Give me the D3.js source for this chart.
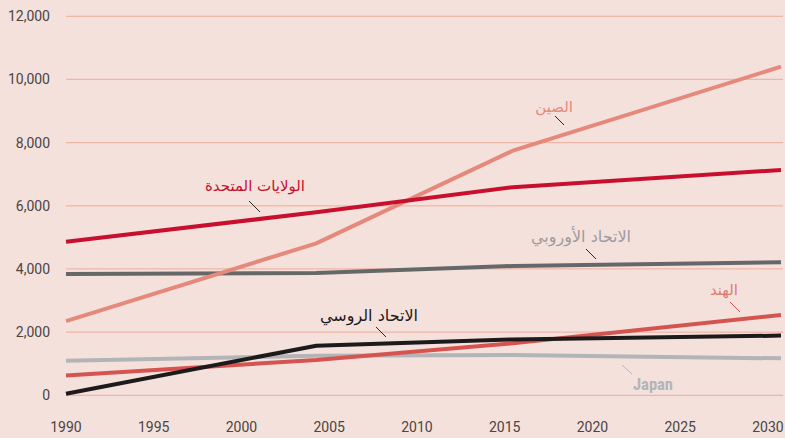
<!DOCTYPE html>
<html>
<head>
<meta charset="utf-8">
<script src="https://cdn.jsdelivr.net/npm/d3@7"></script>
<style>
  html, body { margin: 0; padding: 0; background: #f5e1dc; }
  svg { display: block; }
</style>
</head>
<body>
<svg id="chart" width="785" height="438"></svg>
<script>
// ---- Data ----
const years = [1990, 2004, 2015, 2030];
const usValues     = [4860, 5795, 6590, 7135];
const chinaValues  = [2350, 4810, 7745, 10405];
const euValues     = [3840, 3870, 4095, 4210];
const indiaValues  = [630, 1120, 1645, 2545];
const russiaValues = [50, 1570, 1770, 1890];
const japanValues  = [1095, 1250, 1275, 1170];

const seriesNames = ["الولايات المتحدة", "الصين", "الاتحاد الأوروبي", "الهند", "الاتحاد الروسي", "Japan"];
const yTicks = [0, 2000, 4000, 6000, 8000, 10000, 12000];
const xTicks = [1990, 1995, 2000, 2005, 2010, 2015, 2020, 2025, 2030];

// ---- Styling / layout ----
const W = 785, H = 438;
const svg = d3.select("#chart");
svg.append("rect").attr("width", W).attr("height", H).attr("fill", "#f5e1dc");

const x = d3.scaleLinear().domain([1990, 2030]).range([66, 781]);
const xLabel = d3.scaleLinear().domain([1990, 2030]).range([66, 768]);
const y = d3.scaleLinear().domain([0, 12000]).range([395.3, 16.3]);

const fontTick = "Roboto, 'Liberation Sans', Arial, sans-serif";
const fontAr = "'DejaVu Sans', sans-serif";

// gridlines
svg.append("g").selectAll("line").data(yTicks).join("line")
  .attr("x1", 66).attr("x2", 783)
  .attr("y1", d => y(d)).attr("y2", d => y(d))
  .attr("stroke", "#efb5a6").attr("stroke-width", 1.2);

// y labels
svg.append("g").selectAll("text").data(yTicks).join("text")
  .attr("x", 50).attr("y", d => y(d)).attr("dy", "0.35em")
  .attr("text-anchor", "end")
  .attr("font-family", fontTick).attr("font-size", 14)
  .attr("fill", "#4a4443")
  .text(d => d3.format(",")(d));

// x labels
svg.append("g").selectAll("text").data(xTicks).join("text")
  .attr("x", d => xLabel(d)).attr("y", 432)
  .attr("text-anchor", "middle")
  .attr("font-family", fontTick).attr("font-size", 14)
  .attr("fill", "#4a4443")
  .text(d => d);

const series = [
  { name: seriesNames[0], values: usValues,     color: "#c8102e", w: 4 },
  { name: seriesNames[1], values: chinaValues,  color: "#e4897b", w: 4 },
  { name: seriesNames[2], values: euValues,     color: "#666769", w: 4 },
  { name: seriesNames[3], values: indiaValues,  color: "#d5544f", w: 4 },
  { name: seriesNames[4], values: russiaValues, color: "#1c1a1a", w: 4 },
  { name: seriesNames[5], values: japanValues,  color: "#b3b4b8", w: 4 }
];

const line = d3.line().x((d, i) => x(years[i])).y(d => y(d));

// draw order: japan, eu, india, russia, china, us (us on top)
const order = [5, 2, 3, 4, 1, 0];
svg.append("g").selectAll("path").data(order.map(i => series[i])).join("path")
  .attr("d", d => line(d.values))
  .attr("fill", "none")
  .attr("stroke", d => d.color)
  .attr("stroke-width", d => d.w)
  .attr("stroke-linejoin", "round");

// labels with leader lines
const labels = [
  { s: 0, tx: 305, ty: 191, lx1: 249, ly1: 201, lx2: 260, ly2: 212, color: "#c8102e", size: 15, font: fontAr, weight: "normal" },
  { s: 1, tx: 573, ty: 112, lx1: 555, ly1: 116, lx2: 564, ly2: 125, color: "#e4897b", size: 15, font: fontAr, weight: "normal" },
  { s: 2, tx: 631, ty: 242, lx1: 586, ly1: 249, lx2: 596, ly2: 259, color: "#9c9c9e", size: 16, font: fontAr, weight: "normal" },
  { s: 3, tx: 738, ty: 295, lx1: 730, ly1: 302, lx2: 740, ly2: 312, color: "#e07a70", size: 15, font: fontAr, weight: "normal" },
  { s: 4, tx: 418, ty: 321, lx1: 376, ly1: 327, lx2: 386, ly2: 337, color: "#1c1a1a", size: 16, font: fontAr, weight: "normal" },
  { s: 5, tx: 633, ty: 390, lx1: 622, ly1: 365, lx2: 632, ly2: 374, color: "#b3b4b8", size: 16, font: "'Roboto Condensed', 'Liberation Sans Narrow', Roboto, sans-serif", weight: "bold", anchor: "start" }
];

const lg = svg.append("g");
labels.forEach(l => {
  lg.append("line")
    .attr("x1", l.lx1).attr("y1", l.ly1).attr("x2", l.lx2).attr("y2", l.ly2)
    .attr("stroke", l.s === 5 ? "#b3b4b8" : (l.s === 3 ? "#d5544f" : "#2a2626"))
    .attr("stroke-width", 1);
  const t = lg.append("text")
    .attr("x", l.tx).attr("y", l.ty)
    .attr("text-anchor", l.anchor || "end")
    .attr("font-family", l.font).attr("font-size", l.size)
    .attr("font-weight", l.weight)
    .attr("fill", l.color)
    .text(series[l.s].name);
  if (l.s === 5) t.attr("textLength", 40).attr("lengthAdjust", "spacingAndGlyphs");
});
</script>
</body>
</html>
